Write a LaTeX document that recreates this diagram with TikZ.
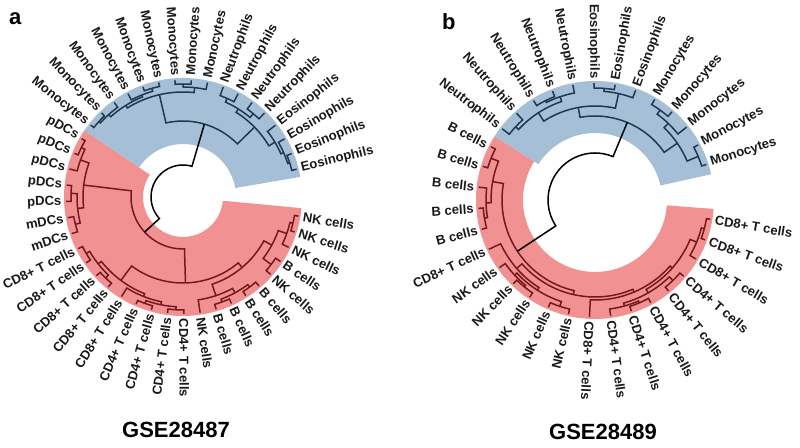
\documentclass[tikz,border=0pt]{standalone}
\usepackage{fontspec}
\setmainfont{Liberation Sans}
\definecolor{fillblue}{RGB}{165,191,214}
\definecolor{fillred}{RGB}{242,145,145}
\definecolor{branchblue}{RGB}{32,56,80}
\definecolor{branchred}{RGB}{118,24,28}
\tikzset{
  bluebranch/.style={draw=branchblue, line width=1.5pt},
  redbranch/.style={draw=branchred, line width=1.5pt},
  rootbranch/.style={draw=black, line width=1.5pt},
  leaflabel/.style={font=\bfseries\fontsize{13.1}{13.1}\selectfont, inner sep=0pt, text=black!90},
  paneltag/.style={font=\bfseries\fontsize{22}{22}\selectfont, inner sep=0pt},
}
% style, pos1, radius1, pos2, radius2, merge radius
\newcommand\branch[6]{%
  \pgfmathsetmacro\angA{\thz-\dlt*(#2)}%
  \pgfmathsetmacro\angB{\thz-\dlt*(#4)}%
  \draw[#1] (\angA:#3pt) -- (\angA:#6pt) arc[start angle=\angA, end angle=\angB, radius=#6pt] -- (\angB:#5pt);}
% fill, pos1, pos2, inner radius, outer radius
\newcommand\band[5]{%
  \pgfmathsetmacro\angA{\thz-\dlt*(#2)}%
  \pgfmathsetmacro\angB{\thz-\dlt*(#3)}%
  \fill[#1] (\angA:#4pt) arc[start angle=\angA, end angle=\angB, radius=#4pt] -- (\angB:#5pt) arc[start angle=\angB, end angle=\angA, radius=#5pt] -- cycle;}
\begin{document}
\begin{tikzpicture}[x=1pt,y=1pt]
  \useasboundingbox (0,0) rectangle (800,447);
  \node[paneltag, anchor=base west] (panela) at (9,422) {a};
  \node[paneltag, anchor=base west] (panelb) at (442,417) {b};
  \node[paneltag, anchor=base] (titlea) at (176,9.5) {GSE28487};
  \node[paneltag, anchor=base] (titleb) at (603,8) {GSE28489};

  \begin{scope}[shift={(183,250)}]
    \def\thz{-9.4}\def\dlt{8.02}\def\upper{-90}\def\lower{-270}
    \band{fillblue}{25.5}{42.5}{53}{119}
    \band{fillred}{-0.5}{25.5}{40}{119}
    \branch{bluebranch}{26}{117}{27}{117}{113}
    \branch{bluebranch}{26.5}{113}{28}{117}{111}
    \branch{bluebranch}{30}{117}{31}{117}{113}
    \branch{bluebranch}{29}{117}{30.5}{113}{110}
    \branch{bluebranch}{27.25}{111}{29.75}{110}{108}
    \branch{bluebranch}{32}{117}{33}{117}{113}
    \branch{bluebranch}{32.5}{113}{34}{117}{110}
    \branch{bluebranch}{28.5}{108}{33.25}{110}{105}
    \branch{bluebranch}{35}{117}{36}{117}{108}
    \branch{bluebranch}{37}{117}{38}{117}{109}
    \branch{bluebranch}{35.5}{108}{37.5}{109}{104}
    \branch{bluebranch}{41}{117}{42}{117}{112}
    \branch{bluebranch}{40}{117}{41.5}{112}{110}
    \branch{bluebranch}{39}{117}{40.75}{110}{107}
    \branch{bluebranch}{36.5}{104}{39.875}{107}{100}
    \branch{bluebranch}{30.875}{105}{38.1875}{100}{76}
    \branch{redbranch}{19}{117}{20}{117}{111}
    \branch{redbranch}{21}{117}{22}{117}{112}
    \branch{redbranch}{19.5}{111}{21.5}{112}{106}
    \branch{redbranch}{24}{117}{25}{117}{113}
    \branch{redbranch}{23}{117}{24.5}{113}{109}
    \branch{redbranch}{20.5}{106}{23.75}{109}{100}
    \branch{redbranch}{15}{117}{16}{117}{112}
    \branch{redbranch}{17}{117}{18}{117}{112}
    \branch{redbranch}{15.5}{112}{17.5}{112}{108}
    \branch{redbranch}{10}{117}{11}{117}{113}
    \branch{redbranch}{12}{117}{13}{117}{113}
    \branch{redbranch}{10.5}{113}{12.5}{113}{110}
    \branch{redbranch}{11.5}{110}{14}{117}{107}
    \branch{redbranch}{16.5}{108}{12.75}{107}{104}
    \branch{redbranch}{0}{117}{1}{117}{113}
    \branch{redbranch}{0.5}{113}{2}{117}{110}
    \branch{redbranch}{3}{117}{4}{117}{111}
    \branch{redbranch}{1.25}{110}{3.5}{111}{101}
    \branch{redbranch}{5}{117}{6}{117}{112}
    \branch{redbranch}{7}{117}{8}{117}{112}
    \branch{redbranch}{5.5}{112}{7.5}{112}{109}
    \branch{redbranch}{6.5}{109}{9}{117}{104}
    \branch{redbranch}{2.375}{101}{7.75}{104}{92}
    \branch{redbranch}{14.625}{104}{5.0625}{92}{86}
    \branch{redbranch}{22.125}{100}{9.84375}{86}{52}
    \branch{rootbranch}{34.53}{76}{15.984}{52}{32}
    \foreach \lab [count=\k from 0] in {NK cells,NK cells,NK cells,B cells,NK cells,B cells,B cells,B cells,B cells,NK cells,CD4+ T cells,CD4+ T cells,CD4+ T cells,CD4+ T cells,CD8+ T cells,CD8+ T cells,CD8+ T cells,CD8+ T cells,CD8+ T cells,mDCs,mDCs,pDCs,pDCs,pDCs,pDCs,pDCs,Monocytes,Monocytes,Monocytes,Monocytes,Monocytes,Monocytes,Monocytes,Monocytes,Monocytes,Neutrophils,Neutrophils,Neutrophils,Neutrophils,Eosinophils,Eosinophils,Eosinophils,Eosinophils}
    {
      \pgfmathsetmacro\ang{\thz-\dlt*\k}
      \pgfmathtruncatemacro\flip{(\ang<=\upper && \ang>=\lower) ? 1 : 0}
      \ifnum\flip=1
        \node[leaflabel, anchor=east, rotate=\ang+180] (a\k) at (\ang:121.5pt) {\lab};
      \else
        \node[leaflabel, anchor=west, rotate=\ang] (a\k) at (\ang:121.5pt) {\lab};
      \fi
    }
  \end{scope}

  \begin{scope}[shift={(595,247)}]
    \def\thz{-9.5}\def\dlt{10.4}\def\upper{-95}\def\lower{-275}
    \band{fillblue}{19.5}{32.5}{67}{119}
    \band{fillred}{-0.5}{19.5}{72}{119}
    \branch{bluebranch}{28}{117}{29}{117}{111}
    \branch{bluebranch}{28.5}{111}{30}{117}{106}
    \branch{bluebranch}{31}{117}{32}{117}{112}
    \branch{bluebranch}{29.25}{106}{31.5}{112}{100}
    \branch{bluebranch}{25}{117}{26}{117}{112}
    \branch{bluebranch}{25.5}{112}{27}{117}{109}
    \branch{bluebranch}{20}{117}{21}{117}{108}
    \branch{bluebranch}{22}{117}{23}{117}{111}
    \branch{bluebranch}{22.5}{111}{24}{117}{109}
    \branch{bluebranch}{20.5}{108}{23.25}{109}{104}
    \branch{bluebranch}{21.875}{104}{26.25}{109}{94}
    \branch{bluebranch}{24.0625}{94}{30.375}{100}{84}
    \branch{redbranch}{15}{117}{16}{117}{112}
    \branch{redbranch}{15.5}{112}{17}{117}{109}
    \branch{redbranch}{18}{117}{19}{117}{112}
    \branch{redbranch}{16.25}{109}{18.5}{112}{104}
    \branch{redbranch}{0}{117}{1}{117}{113}
    \branch{redbranch}{0.5}{113}{2}{117}{110}
    \branch{redbranch}{3}{117}{4}{117}{112}
    \branch{redbranch}{5}{117}{6}{117}{112}
    \branch{redbranch}{5.5}{112}{7}{117}{110}
    \branch{redbranch}{3.5}{112}{6.25}{110}{107}
    \branch{redbranch}{1.25}{110}{4.875}{107}{103}
    \branch{redbranch}{3.0625}{103}{8}{117}{100}
    \branch{redbranch}{9}{117}{10}{117}{112}
    \branch{redbranch}{11}{117}{12}{117}{112}
    \branch{redbranch}{11.5}{112}{13}{117}{110}
    \branch{redbranch}{9.5}{112}{12.25}{110}{107}
    \branch{redbranch}{10.875}{107}{14}{117}{104}
    \branch{redbranch}{5.53125}{100}{12.4375}{104}{97}
    \branch{redbranch}{17.375}{104}{8.984375}{97}{93}
    \branch{rootbranch}{27.21875}{84}{13.1797}{93}{47}
    \foreach \lab [count=\k from 0] in {CD8+ T cells,CD8+ T cells,CD8+ T cells,CD4+ T cells,CD4+ T cells,CD4+ T cells,CD4+ T cells,CD4+ T cells,CD8+ T cells,NK cells,NK cells,NK cells,NK cells,NK cells,CD8+ T cells,B cells,B cells,B cells,B cells,B cells,Neutrophils,Neutrophils,Neutrophils,Neutrophils,Neutrophils,Eosinophils,Eosinophils,Eosinophils,Monocytes,Monocytes,Monocytes,Monocytes,Monocytes}
    {
      \pgfmathsetmacro\ang{\thz-\dlt*\k}
      \pgfmathtruncatemacro\flip{(\ang<=\upper && \ang>=\lower) ? 1 : 0}
      \ifnum\flip=1
        \node[leaflabel, anchor=east, rotate=\ang+180] (b\k) at (\ang:121.5pt) {\lab};
      \else
        \node[leaflabel, anchor=west, rotate=\ang] (b\k) at (\ang:121.5pt) {\lab};
      \fi
    }
  \end{scope}
\end{tikzpicture}
\end{document}
